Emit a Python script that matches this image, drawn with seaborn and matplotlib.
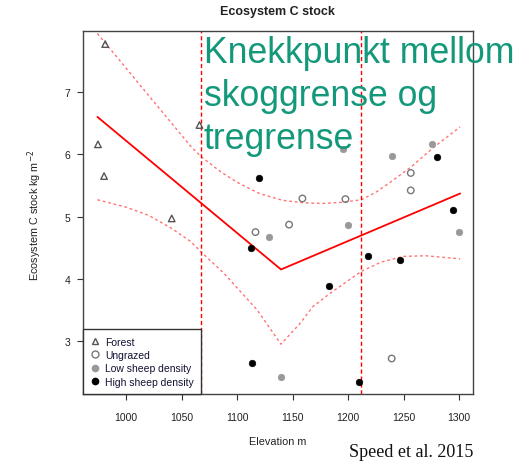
import matplotlib
matplotlib.use("Agg")
import matplotlib.pyplot as plt
from matplotlib.lines import Line2D
import seaborn as sns

# === Data ===
forest_x = [981, 974.5, 980, 1041, 1066]
forest_y = [7.77, 6.16, 5.65, 4.97, 6.47]

ungrazed_x = [1116.5, 1146.8, 1158.8, 1197.6, 1256.5, 1256.5, 1239.3]
ungrazed_y = [4.75, 4.87, 5.29, 5.28, 5.70, 5.42, 2.72]

low_x = [1129, 1139.6, 1195.8, 1200.3, 1239.3, 1275.4, 1300.3]
low_y = [4.67, 2.43, 6.08, 4.87, 5.97, 6.17, 4.75]

high_x = [1112.6, 1113.8, 1119.8, 1182.9, 1209.9, 1218.3, 1246.8, 1279.9, 1294.6]
high_y = [4.50, 2.64, 5.62, 3.89, 2.35, 4.36, 4.31, 5.96, 5.10]

# segmented regression fit
fit_x = [974, 1139.5, 1301]
fit_y = [6.60, 4.15, 5.37]

# confidence band
upper_x = [974, 1000, 1025, 1059, 1067, 1085, 1100, 1120, 1141, 1160, 1177, 1195, 1212, 1225, 1238, 1257, 1277, 1301]
upper_y = [7.94, 7.38, 6.84, 6.11, 5.97, 5.72, 5.55, 5.37, 5.26, 5.22, 5.21, 5.23, 5.27, 5.39, 5.55, 5.80, 6.11, 6.44]
lower_x = [974, 1000, 1020, 1040, 1058, 1067, 1088, 1118, 1139.5, 1157, 1168, 1184, 1212, 1230, 1250, 1270, 1301]
lower_y = [5.27, 5.15, 5.02, 4.82, 4.60, 4.44, 4.09, 3.50, 2.95, 3.29, 3.55, 3.77, 4.12, 4.27, 4.36, 4.37, 4.32]

# breakpoints (forest line / tree line)
vlines_x = [1067, 1212]

x_ticks = [1000, 1050, 1100, 1150, 1200, 1250, 1300]
y_ticks = [3, 4, 5, 6, 7]

sns.set_style("ticks")
plt.rcParams['font.family'] = ['Liberation Sans', 'DejaVu Sans']

fig = plt.figure(figsize=(5.2, 4.64), dpi=100)
ax = fig.add_axes([83/520, 1-395/464, 390/520, 363/464])

# points
sns.scatterplot(x=forest_x, y=forest_y, marker='^', s=22, facecolor='none',
                edgecolor='#555555', linewidth=1.0, ax=ax, zorder=3)
sns.scatterplot(x=ungrazed_x, y=ungrazed_y, marker='o', s=22, facecolor='none',
                edgecolor='#777777', linewidth=1.0, ax=ax, zorder=3)
sns.scatterplot(x=low_x, y=low_y, marker='o', s=22, color='#999999',
                edgecolor='#999999', linewidth=0.5, ax=ax, zorder=3)
sns.scatterplot(x=high_x, y=high_y, marker='o', s=22, color='black',
                edgecolor='black', linewidth=0.5, ax=ax, zorder=3)

# fit and band
sns.lineplot(x=fit_x, y=fit_y, color='red', lw=1.3, estimator=None, sort=False, ax=ax)
sns.lineplot(x=upper_x, y=upper_y, color='red', alpha=0.55, lw=1.0,
             linestyle=(0, (2, 2)), estimator=None, sort=False, ax=ax)
sns.lineplot(x=lower_x, y=lower_y, color='red', alpha=0.55, lw=1.0,
             linestyle=(0, (2, 2)), estimator=None, sort=False, ax=ax)
for vx in vlines_x:
    ax.axvline(vx, color='red', lw=1.0, linestyle=(0, (3, 2)))

ax.set_xlim(961, 1312.6)
ax.set_ylim(2.15, 7.98)
ax.set_xticks(x_ticks)
ax.set_yticks(y_ticks)
ax.tick_params(axis='both', direction='out', length=4, width=0.8, colors='#333333',
               labelsize=7.5, labelcolor='#222222', bottom=True, left=True)
ax.tick_params(axis='x', pad=9)
ax.tick_params(axis='y', pad=5)
for s in ax.spines.values():
    s.set_visible(True)
    s.set_color('#444444')
    s.set_linewidth(1.0)

# legend
handles = [
    Line2D([], [], marker='^', ls='none', mfc='none', mec='#555555', ms=5, mew=1.0),
    Line2D([], [], marker='o', ls='none', mfc='none', mec='#777777', ms=5, mew=1.0),
    Line2D([], [], marker='o', ls='none', mfc='#999999', mec='#999999', ms=4.5),
    Line2D([], [], marker='o', ls='none', mfc='black', mec='black', ms=4.5),
]
labels = ["Forest", "Ungrazed", "Low sheep density", "High sheep density"]
leg = ax.legend(handles, labels, loc='lower left', borderaxespad=0, frameon=True,
                fancybox=False, edgecolor='#333333', framealpha=1, fontsize=7.5,
                handletextpad=0.5, borderpad=0.7, labelspacing=0.32, handlelength=0.9)
leg.get_frame().set_linewidth(1.0)
for t in leg.get_texts():
    t.set_color('#111133')

# texts
fig.text(277/520, 1-12/464, "Ecosystem C stock", ha='center', va='center',
         fontsize=9, fontweight='bold', color='#222222')
fig.text(278/520, 1-442/464, "Elevation m", ha='center', va='center',
         fontsize=7.8, color='#222222')
fig.text(35/520, 1-215/464, "Ecosystem C stock kg m$^{-2}$", ha='center', va='center',
         rotation=90, fontsize=7.8, color='#222222')
fig.text(204/520, 1-36/464, "Knekkpunkt mellom\nskoggrense og\ntregrense",
         ha='left', va='top', fontsize=25.7, color='#13997a', linespacing=1.3)
fig.text(411/520, 1-453/464, "Speed et al. 2015", ha='center', va='center',
         fontsize=13, family='Liberation Serif', color='#111111')

fig.savefig("out.png", dpi=100)
